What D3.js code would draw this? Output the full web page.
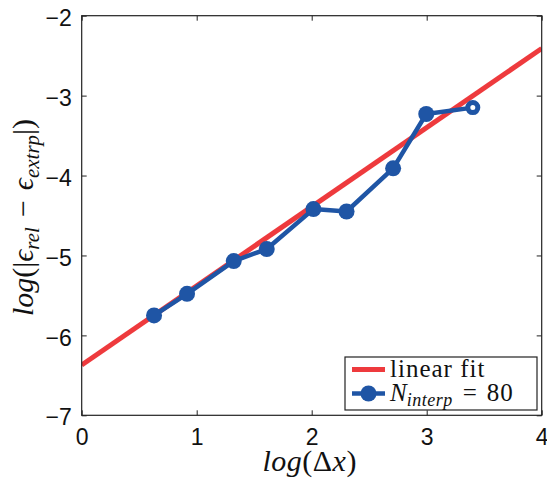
<!DOCTYPE html>
<html>
<head>
<meta charset="utf-8">
<script src="https://cdn.jsdelivr.net/npm/d3@7/dist/d3.min.js"></script>
<style>
  html, body { margin: 0; padding: 0; background: #fff; }
  svg { display: block; }
</style>
</head>
<body>
<svg id="chart" width="547" height="479"></svg>
<script>
// Convergence data: log of grid spacing vs. log of relative extrapolation error
const logDx = [0.629, 0.916, 1.322, 1.609, 2.015, 2.303, 2.708, 2.996, 3.401];
const logErr = [-5.75, -5.48, -5.07, -4.92, -4.42, -4.45, -3.91, -3.23, -3.15];

// Linear fit (intercept and slope)
const fitIntercept = -6.37;
const fitSlope = 0.99;

const xTicks = [0, 1, 2, 3, 4];
const yTicks = [-2, -3, -4, -5, -6, -7];

const legendLabels = ["linear fit", "N_interp = 80"];

const colors = { fit: "#ee3a3d", data: "#1f55a5" };

const svg = d3.select("#chart");
const margin = { left: 81.7, top: 15.7, right: 547 - 541.7, bottom: 479 - 415.3 };
const W = 547 - margin.left - margin.right;
const H = 479 - margin.top - margin.bottom;

const x = d3.scaleLinear().domain([0, 4]).range([margin.left, margin.left + W]);
const y = d3.scaleLinear().domain([-7, -2]).range([margin.top + H, margin.top]);

const plot = svg.append("g");

svg.append("clipPath").attr("id", "clip")
  .append("rect").attr("x", x(0)).attr("y", y(-2)).attr("width", W).attr("height", H);

// Linear fit across the whole x range
const fitData = [0, 4].map(v => [v, fitIntercept + fitSlope * v]);
plot.append("path")
  .datum(fitData)
  .attr("clip-path", "url(#clip)")
  .attr("fill", "none")
  .attr("stroke", colors.fit)
  .attr("stroke-width", 5)
  .attr("d", d3.line().x(d => x(d[0])).y(d => y(d[1])));

// Data series with markers
const pts = logDx.map((v, i) => [v, logErr[i]]);
plot.append("path")
  .datum(pts)
  .attr("fill", "none")
  .attr("stroke", colors.data)
  .attr("stroke-width", 4.5)
  .attr("stroke-linejoin", "round")
  .attr("d", d3.line().x(d => x(d[0])).y(d => y(d[1])));

const last = pts.length - 1;
plot.selectAll("circle.pt")
  .data(pts)
  .join("circle")
  .attr("class", "pt")
  .attr("cx", d => x(d[0]))
  .attr("cy", d => y(d[1]))
  .attr("r", (d, i) => i === last ? 5 : 8)
  .attr("fill", (d, i) => i === last ? "#fff" : colors.data)
  .attr("stroke", colors.data)
  .attr("stroke-width", (d, i) => i === last ? 5 : 0);

// Axes with inward ticks on all four sides
const tickLen = 5;
const axisColor = "#222";
const fontTick = "Liberation Sans, Arial, sans-serif";

function styleAxis(g) {
  g.select(".domain").remove();
  g.selectAll(".tick line").attr("stroke", axisColor).attr("stroke-width", 1);
}

svg.append("g")
  .attr("transform", `translate(0,${y(-7)})`)
  .call(d3.axisBottom(x).tickValues(xTicks).tickSize(-tickLen).tickPadding(13).tickFormat(d3.format("d")))
  .call(styleAxis)
  .call(g => g.selectAll("text").attr("font-family", fontTick).attr("font-size", 23).attr("fill", "#111"));

svg.append("g")
  .attr("transform", `translate(0,${y(-2)})`)
  .call(d3.axisTop(x).tickValues(xTicks).tickSize(-tickLen).tickFormat(""))
  .call(styleAxis);

svg.append("g")
  .attr("transform", `translate(${x(0)},0)`)
  .call(d3.axisLeft(y).tickValues(yTicks).tickSize(-tickLen).tickPadding(10)
    .tickFormat(d => "\u2212" + Math.abs(d)))
  .call(styleAxis)
  .call(g => g.selectAll("text").attr("font-family", fontTick).attr("font-size", 23)
    .attr("fill", "#111").attr("dy", "0.42em"));

svg.append("g")
  .attr("transform", `translate(${x(4)},0)`)
  .call(d3.axisRight(y).tickValues(yTicks).tickSize(-tickLen).tickFormat(""))
  .call(styleAxis);

// Frame
svg.append("rect")
  .attr("x", x(0)).attr("y", y(-2)).attr("width", W).attr("height", H)
  .attr("fill", "none").attr("stroke", axisColor).attr("stroke-width", 1.2);

// Axis labels
const fontMath = "Liberation Serif, DejaVu Serif, serif";
const xl = svg.append("text")
  .attr("x", (x(0) + x(4)) / 2 - 2)
  .attr("y", 471)
  .attr("text-anchor", "middle")
  .attr("font-family", fontMath)
  .attr("font-size", 30)
  .attr("letter-spacing", 0.5)
  .attr("fill", "#111");
xl.append("tspan").attr("font-style", "italic").text("log");
xl.append("tspan").text("(\u0394");
xl.append("tspan").attr("font-style", "italic").text("x");
xl.append("tspan").text(")");

const yl = svg.append("text")
  .attr("transform", `translate(33,${(y(-2) + y(-7)) / 2 + 2}) rotate(-90)`)
  .attr("text-anchor", "middle")
  .attr("font-family", fontMath)
  .attr("font-size", 30)
  .attr("fill", "#111");
yl.append("tspan").attr("font-style", "italic").text("log");
yl.append("tspan").text("(|");
yl.append("tspan").attr("font-style", "italic").text("\u03f5");
yl.append("tspan").attr("font-style", "italic").attr("font-size", 21).attr("dy", 6).text("rel");
yl.append("tspan").attr("dy", -6).attr("dx", 10).text("\u2212");
yl.append("tspan").attr("dx", 10).attr("font-style", "italic").text("\u03f5");
yl.append("tspan").attr("font-style", "italic").attr("font-size", 21).attr("dy", 6).text("extrp");
yl.append("tspan").attr("dy", -6).text("|)");

// Legend
const lg = svg.append("g");
const lx0 = 345, ly0 = 357, lw = 192, lh = 53;
lg.append("rect").attr("x", lx0).attr("y", ly0).attr("width", lw).attr("height", lh)
  .attr("fill", "#fff").attr("stroke", axisColor).attr("stroke-width", 1.2);

const rowY = [369.5, 393.5];
lg.append("line").attr("x1", 352).attr("x2", 385).attr("y1", rowY[0]).attr("y2", rowY[0])
  .attr("stroke", colors.fit).attr("stroke-width", 5);
lg.append("line").attr("x1", 352).attr("x2", 385).attr("y1", rowY[1]).attr("y2", rowY[1])
  .attr("stroke", colors.data).attr("stroke-width", 4.5);
lg.append("circle").attr("cx", 368.5).attr("cy", rowY[1]).attr("r", 8).attr("fill", colors.data);

lg.append("text").attr("x", 390).attr("y", rowY[0] + 7)
  .attr("font-family", fontMath).attr("font-size", 25).attr("letter-spacing", 1)
  .attr("fill", "#111")
  .text(legendLabels[0]);

const [nBase, nRest] = legendLabels[1].split("_");
const [nSub, nVal] = nRest.split(" = ");
const t2 = lg.append("text").attr("x", 390).attr("y", rowY[1] + 7)
  .attr("font-family", fontMath).attr("font-size", 25).attr("fill", "#111");
t2.append("tspan").attr("font-style", "italic").text(nBase);
t2.append("tspan").attr("font-style", "italic").attr("font-size", 18).attr("dy", 5).attr("letter-spacing", 0.5).text(nSub);
t2.append("tspan").attr("dy", -5).attr("dx", 10).text("=");
t2.append("tspan").attr("dx", 10).attr("letter-spacing", 1).text(nVal);
</script>
</body>
</html>
